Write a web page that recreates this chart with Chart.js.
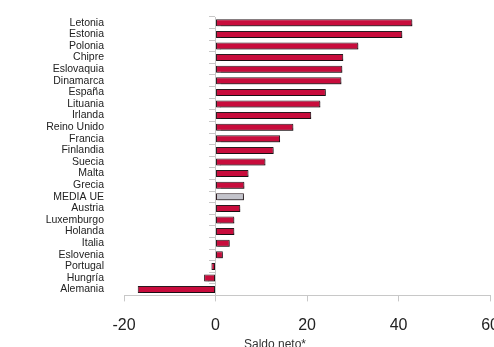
<!DOCTYPE html>
<html>
<head>
<meta charset="utf-8">
<script src="https://cdn.jsdelivr.net/npm/chart.js@4"></script>
<style>
    body { margin: 0; overflow: hidden; background: #fff; }
    .wrap { width: 514px; height: 354px; }
</style>
</head>
<body>
<div class="wrap"><canvas id="myChart"></canvas></div>
<script>
const paises = ['Letonia', 'Estonia', 'Polonia', 'Chipre', 'Eslovaquia', 'Dinamarca', 'España', 'Lituania', 'Irlanda', 'Reino Unido', 'Francia', 'Finlandia', 'Suecia', 'Malta', 'Grecia', 'MEDIA UE', 'Austria', 'Luxemburgo', 'Holanda', 'Italia', 'Eslovenia', 'Portugal', 'Hungría', 'Alemania']
const saldo = [43.0, 40.8, 31.2, 27.9, 27.7, 27.5, 24.1, 22.9, 20.9, 17.0, 14.1, 12.7, 10.9, 7.2, 6.3, 6.2, 5.4, 4.1, 4.1, 3.1, 1.6, -0.9, -2.5, -17.0]
const ticksX = [-20, 0, 20, 40, 60]

// la media va en gris, el resto en rojo
const colores = paises.map(p => p === 'MEDIA UE' ? '#c3c3cb' : '#c80c3c')

// sombra suave debajo de las barras
const sombra = {
    id: 'sombra',
    beforeDatasetsDraw(chart) {
        const ctx = chart.ctx
        ctx.save()
        ctx.shadowColor = 'rgba(0, 0, 0, 0.4)'
        ctx.shadowOffsetX = 1.5
        ctx.shadowOffsetY = 1.5
        ctx.shadowBlur = 1
    },
    afterDatasetsDraw(chart) {
        chart.ctx.restore()
    }
}

const gris = '#c8c8c8'
const ctx = document.getElementById('myChart').getContext('2d');
const myChart = new Chart(ctx, {
    type: 'bar',
    data: {
        labels: paises,
        datasets: [{
            data: saldo,
            backgroundColor: colores,
            borderColor: '#2a1a1f',
            borderWidth: 1,
            borderSkipped: false,
            categoryPercentage: 1,
            barPercentage: 0.6
        }]
    },
    options: {
        indexAxis: 'y',
        responsive: true,
        maintainAspectRatio: false,
        animation: false,
        layout: { padding: { left: 36, top: 17, right: 0, bottom: 0 } },
        plugins: {
            legend: { display: false },
            tooltip: { enabled: false },
            title: {
                display: true,
                position: 'bottom',
                text: 'Saldo neto*',
                color: '#333',
                font: { family: 'Liberation Sans, Arial', size: 12, weight: 'normal' },
                padding: { top: 2, bottom: 2 }
            }
        },
        scales: {
            x: {
                min: ticksX[0],
                max: ticksX[ticksX.length - 1],
                afterBuildTicks: s => { s.ticks = ticksX.map(v => ({ value: v })) },
                // chart.js cuenta el padding dos veces, aqui solo una
                afterFit: s => { s.height = 6 + 15 + 19.2 },
                grid: { drawOnChartArea: false, tickLength: 6, color: gris },
                border: { color: gris },
                ticks: {
                    color: '#222',
                    padding: 15,
                    maxRotation: 0,
                    font: { family: 'Liberation Sans, Arial', size: 16 }
                }
            },
            y: {
                afterFit: s => { s.width = 88 },
                // las marcas no se pintan, solo separan las etiquetas del eje
                grid: { display: false, drawTicks: true, tickLength: 20 },
                border: { display: false },
                ticks: {
                    color: '#222',
                    padding: 0,
                    autoSkip: false,
                    font: { family: 'Liberation Sans, Arial', size: 10.5 }
                }
            },
            // eje vertical en el cero con las marquitas
            y2: {
                type: 'category',
                position: { x: 0 },
                offset: true,
                afterFit: s => { s.width = 0 },
                grid: { drawOnChartArea: false, offset: true, tickLength: 6, color: gris },
                border: { color: gris },
                ticks: { display: false }
            }
        }
    },
    plugins: [sombra]
});
</script>
</body>
</html>
